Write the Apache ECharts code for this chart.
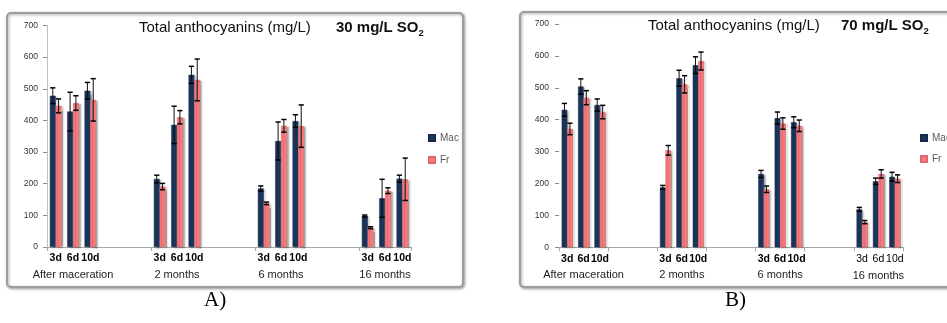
<!DOCTYPE html>
<html>
<head>
<meta charset="utf-8">
<script src="https://cdn.jsdelivr.net/npm/echarts@6/dist/echarts.min.js"></script>
<style>
html,body{margin:0;padding:0;background:#fff;}
#c{width:947px;height:323px;}
</style>
</head>
<body>
<div id="c"></div>
<script>
// ---- data ----
const days = ['3d','6d','10d','','','','3d','6d','10d','','','','3d','6d','10d','','','','3d','6d','10d'];
const groups = ['After maceration','2 months','6 months','16 months'];
const groupLabelSlot = [1, 7, 13, 19];
// value order: After maceration 3d,6d,10d | 2 months | 6 months | 16 months
const valueSlots = [0,1,2, 6,7,8, 12,13,14, 18,19,20];

// Panel A : 30 mg/L SO2
const macA    = [478, 428, 494,  215, 386, 544,  185, 335, 398,   98, 154, 216];
const macAErr = [ 25,  61,  26,   12,  59,  27,    8,  60,  20,    3,  60,  11];
const frA     = [446, 455, 465,  191, 410, 528,  138, 383, 382,   61, 178, 214];
const frAErr  = [ 22,  23,  67,   10,  21,  66,    4,  20,  67,    3,   9,  67];

// Panel B : 70 mg/L SO2
const macB    = [431, 504, 446,  188, 530, 571,  230, 405, 392,  119, 207, 221];
const macBErr = [ 20,  24,  19,    6,  25,  26,   11,  19,  17,    6,  10,  14];
const frB     = [371, 469, 424,  304, 511, 584,  182, 388, 381,   79, 230, 215];
const frBErr  = [ 18,  22,  21,   15,  27,  28,   10,  18,  18,    5,  13,  12];

const yTicks = [0,100,200,300,400,500,600,700];
const seriesNames = ['Mac','Fr'];
const titleText = 'Total anthocyanins (mg/L)';
const doseA = '30 mg/L SO';
const doseB = '70 mg/L SO';
const panelLabels = ['A)','B)'];

// ---- helpers ----
const FONT = "'Liberation Sans', Arial, sans-serif";
const MAC_COLOR = '#1c375e';
const FR_COLOR = '#fd7b7f';

function spread(vals){
  const out = new Array(days.length).fill(null);
  valueSlots.forEach((s,i)=>{ out[s] = vals[i]; });
  return out;
}
function barSeries(name, grid, vals, color, bw){
  return {
    type:'bar', name, xAxisIndex:grid, yAxisIndex:grid,
    data: spread(vals), barWidth: bw, barGap:'0%',
    itemStyle:{color, borderColor: name==='Fr' ? '#e0676b' : '#142a4a', borderWidth:0.5,
      shadowColor:'rgba(0,0,0,0.35)', shadowBlur:1.5, shadowOffsetX:2, shadowOffsetY:1},
    emphasis:{disabled:true}, z:3
  };
}
function errSeries(name, grid, vals, errs, side, bw){
  return {
    type:'custom', name: name+' err', xAxisIndex:grid, yAxisIndex:grid,
    data: vals.map((v,i)=>[valueSlots[i], v-errs[i], v+errs[i]]),
    encode:{x:0, y:[1,2]}, z:5, silent:true,
    renderItem:(params, api)=>{
      const x = api.value(0);
      const lo = api.coord([x, api.value(1)]);
      const hi = api.coord([x, api.value(2)]);
      const cx = lo[0] + side*bw/2;
      const cap = 2.6;
      return {type:'group', children:[
        {type:'line', shape:{x1:cx,y1:lo[1],x2:cx,y2:hi[1]}, style:{stroke:'#111', lineWidth:1}},
        {type:'line', shape:{x1:cx-cap,y1:hi[1],x2:cx+cap,y2:hi[1]}, style:{stroke:'#000', lineWidth:1.5}},
        {type:'line', shape:{x1:cx-cap,y1:lo[1],x2:cx+cap,y2:lo[1]}, style:{stroke:'#000', lineWidth:1.5}}
      ]};
    }
  };
}
function xAxis(grid, tickEvery, lightDays){
  return {
    type:'category', gridIndex:grid, data:days, boundaryGap:true,
    axisLine:{lineStyle:{color:'#a6a6a6', width:1}},
    axisTick:{show:true, length:4, lineStyle:{color:'#a6a6a6'}, interval:(i)=> i % tickEvery === 0},
    axisLabel:{interval:0, margin:4, fontFamily:FONT,
      formatter:(v, i)=>{
        const g = groupLabelSlot.indexOf(i);
        const dStyle = (lightDays && i >= 18) ? 'dl' : 'd';
        if (g >= 0) return '{'+dStyle+'|'+v+'}\n{g|'+groups[g]+'}';
        return v ? '{'+dStyle+'|'+v+'}' : '';
      },
      rich:{
        d:{fontSize:10.5, fontWeight:'bold', color:'#000', lineHeight:15, fontFamily:FONT},
        dl:{fontSize:10.5, fontWeight:'normal', color:'#000', lineHeight:16, fontFamily:FONT},
        g:{fontSize:11, color:'#222', lineHeight:18, fontFamily:FONT}
      }
    },
    splitLine:{show:false}
  };
}
function yAxis(grid, margin, showLine){
  return {
    type:'value', gridIndex:grid, min:yTicks[0], max:yTicks[yTicks.length-1], interval:100,
    axisLine:{show:showLine, lineStyle:{color:'#bfbfbf'}},
    axisTick:{show:true, length:4, lineStyle:{color:'#8c8c8c'}},
    axisLabel:{fontSize:8.5, color:'#333', margin, fontFamily:FONT},
    splitLine:{show:false}
  };
}

const chart = echarts.init(document.getElementById('c'));
const titleStyle = {fontSize:15, fontWeight:'normal', color:'#111', fontFamily:FONT};
const doseRich = {
  b:{fontSize:15, fontWeight:'bold', color:'#111', lineHeight:20, fontFamily:FONT, verticalAlign:'middle'},
  s:{fontSize:9.5, fontWeight:'bold', color:'#111', lineHeight:9, fontFamily:FONT, verticalAlign:'bottom'}
};

chart.setOption({
  animation:false,
  backgroundColor:'#fff',
  graphic:[
    {type:'rect', shape:{x:7, y:13, width:456, height:274, r:4}, z:-10,
     style:{fill:'#fff', stroke:'#9d9d9d', lineWidth:2, shadowBlur:3, shadowColor:'rgba(0,0,0,0.35)', shadowOffsetX:1, shadowOffsetY:1}},
    {type:'rect', shape:{x:520, y:12, width:440, height:275, r:4}, z:-10,
     style:{fill:'#fff', stroke:'#9d9d9d', lineWidth:2, shadowBlur:3, shadowColor:'rgba(0,0,0,0.35)', shadowOffsetX:1, shadowOffsetY:1}}
  ],
  title:[
    {text:titleText, left:139, top:20, padding:0, textStyle:titleStyle},
    {text:'{b|'+doseA+'}{s|2}', left:336, top:18, padding:0, textStyle:{rich:doseRich}},
    {text:titleText, left:648, top:18, padding:0, textStyle:titleStyle},
    {text:'{b|'+doseB+'}{s|2}', left:841, top:16, padding:0, textStyle:{rich:doseRich}},
    {text:panelLabels[0], left:204, top:290, padding:0, textStyle:{fontSize:21, fontWeight:'normal', color:'#000', fontFamily:"'Liberation Serif', 'Times New Roman', serif"}},
    {text:panelLabels[1], left:725, top:290, padding:0, textStyle:{fontSize:21, fontWeight:'normal', color:'#000', fontFamily:"'Liberation Serif', 'Times New Roman', serif"}}
  ],
  legend:[
    {data:seriesNames, left:428, top:133, orient:'vertical', itemWidth:6, itemHeight:6, itemGap:12, padding:0, icon:'rect',
     selectedMode:false, textStyle:{fontSize:10, color:'#595959', fontFamily:FONT}},
    {data:seriesNames, left:920, top:133, orient:'vertical', itemWidth:6, itemHeight:6, itemGap:11, padding:0, icon:'rect',
     selectedMode:false, textStyle:{fontSize:10, color:'#595959', fontFamily:FONT}}
  ],
  grid:[
    {left:47, top:25.5, width:364, height:221.5, containLabel:false},
    {left:559, top:24, width:344, height:223.3, containLabel:false}
  ],
  xAxis:[xAxis(0, 6, false), xAxis(1, 3, true)],
  yAxis:[yAxis(0, 9, true), yAxis(1, 10, false)],
  series:[
    barSeries(seriesNames[0], 0, macA, MAC_COLOR, 5.8),
    barSeries(seriesNames[1], 0, frA, FR_COLOR, 5.8),
    errSeries('Mac', 0, macA, macAErr, -1, 5.8),
    errSeries('Fr', 0, frA, frAErr, 1, 5.8),
    barSeries(seriesNames[0], 1, macB, MAC_COLOR, 5.5),
    barSeries(seriesNames[1], 1, frB, FR_COLOR, 5.5),
    errSeries('Mac', 1, macB, macBErr, -1, 5.5),
    errSeries('Fr', 1, frB, frBErr, 1, 5.5)
  ]
});
</script>
</body>
</html>
